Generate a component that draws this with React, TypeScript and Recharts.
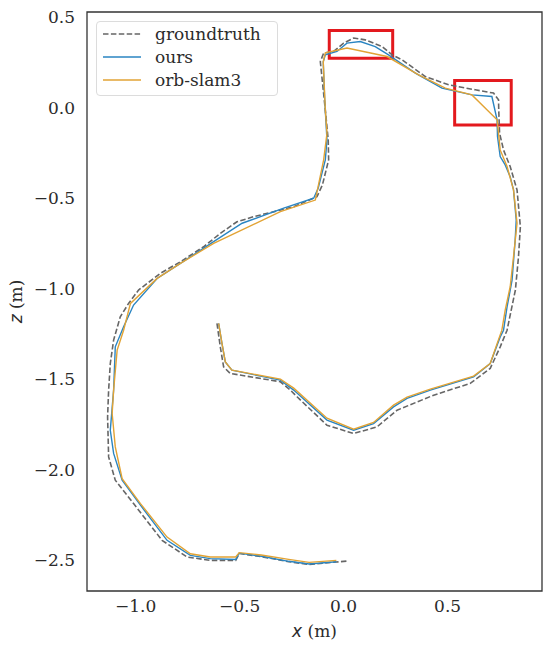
import { LineChart, Line, XAxis, YAxis, ReferenceArea } from "recharts";

// trajectory points, x and z in metres
const gtX = [-0.609, -0.593, -0.577, -0.545, -0.304, -0.256, -0.224, -0.08, 0.048, 0.161, 0.257, 0.433, 0.609, 0.705, 0.753, 0.786, 0.826, 0.841, 0.85, 0.834, 0.801, 0.769, 0.75, 0.746, 0.745, 0.721, 0.633, 0.505, 0.393, 0.281, 0.233, 0.185, 0.104, 0.048, 0.0, -0.048, -0.096, -0.112, -0.088, -0.074, -0.072, -0.102, -0.128, -0.24, -0.433, -0.513, -0.593, -0.673, -0.785, -0.881, -0.986, -1.034, -1.074, -1.106, -1.122, -1.13, -1.135, -1.13, -1.098, -1.01, -0.873, -0.753, -0.641, -0.519, -0.502, -0.396, -0.264, -0.166, -0.035, 0.014];
const gtZ = [-1.192, -1.322, -1.433, -1.469, -1.515, -1.561, -1.598, -1.755, -1.801, -1.764, -1.672, -1.589, -1.524, -1.441, -1.322, -1.23, -1.008, -0.824, -0.658, -0.455, -0.326, -0.234, -0.142, -0.013, 0.043, 0.08, 0.098, 0.126, 0.171, 0.264, 0.291, 0.337, 0.374, 0.384, 0.356, 0.31, 0.301, 0.254, -0.013, -0.179, -0.289, -0.428, -0.492, -0.548, -0.603, -0.631, -0.695, -0.769, -0.852, -0.916, -1.008, -1.082, -1.156, -1.285, -1.414, -1.561, -1.709, -1.93, -2.059, -2.188, -2.391, -2.483, -2.502, -2.502, -2.464, -2.481, -2.509, -2.524, -2.511, -2.506];

const oursX = [-0.601, -0.585, -0.569, -0.537, -0.304, -0.24, -0.08, 0.048, 0.144, 0.24, 0.305, 0.417, 0.625, 0.705, 0.753, 0.769, 0.786, 0.81, 0.825, 0.83, 0.817, 0.801, 0.777, 0.753, 0.74, 0.738, 0.713, 0.617, 0.473, 0.345, 0.216, 0.152, 0.08, 0.016, -0.032, -0.088, -0.098, -0.091, -0.08, -0.088, -0.122, -0.144, -0.288, -0.488, -0.625, -0.785, -0.897, -1.01, -1.058, -1.098, -1.106, -1.122, -1.106, -1.065, -0.977, -0.849, -0.737, -0.641, -0.519, -0.502, -0.396, -0.264, -0.166, -0.035];
const oursZ = [-1.192, -1.303, -1.405, -1.451, -1.506, -1.561, -1.727, -1.783, -1.746, -1.654, -1.607, -1.561, -1.488, -1.414, -1.267, -1.23, -1.101, -0.953, -0.732, -0.621, -0.455, -0.382, -0.317, -0.271, -0.16, -0.068, 0.061, 0.07, 0.107, 0.19, 0.291, 0.337, 0.365, 0.356, 0.31, 0.291, 0.253, 0.043, -0.179, -0.289, -0.444, -0.501, -0.556, -0.639, -0.741, -0.861, -0.944, -1.091, -1.211, -1.322, -1.561, -1.783, -1.911, -2.059, -2.197, -2.391, -2.474, -2.492, -2.497, -2.462, -2.479, -2.507, -2.522, -2.509];

const orbX = [-0.601, -0.585, -0.569, -0.537, -0.304, -0.24, -0.08, 0.048, 0.144, 0.24, 0.305, 0.417, 0.625, 0.705, 0.744, 0.761, 0.777, 0.801, 0.817, 0.834, 0.817, 0.786, 0.753, 0.745, 0.738, 0.617, 0.489, 0.361, 0.209, 0.016, -0.088, -0.098, -0.088, -0.08, -0.096, -0.136, -0.304, -0.625, -0.785, -0.897, -1.025, -1.058, -1.089, -1.106, -1.113, -1.098, -1.065, -0.977, -0.849, -0.737, -0.641, -0.519, -0.502, -0.396, -0.264, -0.166, -0.035];
const orbZ = [-1.192, -1.303, -1.405, -1.451, -1.5, -1.55, -1.716, -1.777, -1.74, -1.644, -1.6, -1.556, -1.484, -1.414, -1.285, -1.23, -1.119, -0.99, -0.824, -0.639, -0.455, -0.326, -0.234, -0.142, -0.068, 0.07, 0.107, 0.181, 0.282, 0.329, 0.303, 0.253, -0.013, -0.142, -0.289, -0.511, -0.575, -0.75, -0.861, -0.944, -1.082, -1.23, -1.34, -1.561, -1.69, -1.875, -2.05, -2.188, -2.373, -2.465, -2.483, -2.483, -2.459, -2.472, -2.496, -2.513, -2.502];

const X_TICKS = [-1.0, -0.5, 0.0, 0.5];
const Z_TICKS = [-2.5, -2.0, -1.5, -1.0, -0.5, 0.0, 0.5];

// highlighted regions [x1, x2, z1, z2]
const BOXES = [
  [-0.069, 0.236, 0.273, 0.426],
  [0.534, 0.806, -0.096, 0.149],
];

const X_DOMAIN = [-1.234, 0.954];
const Z_DOMAIN = [-2.671, 0.528];

const zip = (xs: number[], zs: number[]) => xs.map((x, i) => ({ x, z: zs[i] }));

const gt = zip(gtX, gtZ);
const ours = zip(oursX, oursZ);
const orb = zip(orbX, orbZ);

const FONT = "'DejaVu Serif', serif";
const FS = 17;
const TEXT = "#2b2b2b";
const GT_COLOR = "#666666";
const OURS_COLOR = "#2a85c2";
const ORB_COLOR = "#e2a334";

const fmt = (v: number) => (v < 0 ? "\u2212" : "") + Math.abs(v).toFixed(1);

const tickStyle = { fontFamily: FONT, fontSize: FS, fill: TEXT };

function XLabel(props: any) {
  const vb = props.viewBox || { x: 87, y: 591, width: 455 };
  return (
    <text x={vb.x + vb.width / 2} y={vb.y + 46} textAnchor="middle" fontFamily={FONT} fontSize={FS} fill={TEXT}>
      <tspan fontFamily="'DejaVu Sans', sans-serif" fontStyle="italic">x</tspan>
      <tspan> (m)</tspan>
    </text>
  );
}

function YLabel(props: any) {
  const vb = props.viewBox || { x: 0, y: 12, height: 579 };
  const cx = 21.5;
  const cy = vb.y + vb.height / 2;
  return (
    <text x={cx} y={cy} transform={`rotate(-90, ${cx}, ${cy})`} textAnchor="middle" fontFamily={FONT} fontSize={FS} fill={TEXT}>
      <tspan fontFamily="'DejaVu Sans', sans-serif" fontStyle="italic">z</tspan>
      <tspan> (m)</tspan>
    </text>
  );
}

const legendItems = [
  { name: "groundtruth", color: GT_COLOR, dash: "5.5 2.4" },
  { name: "ours", color: OURS_COLOR, dash: undefined },
  { name: "orb-slam3", color: ORB_COLOR, dash: undefined },
];

function LegendBox() {
  return (
    <div
      style={{
        position: "absolute",
        left: 96,
        top: 21,
        width: 180,
        paddingBottom: 3,
        border: "1px solid #dcdcdc",
        borderRadius: 4,
        background: "rgba(255,255,255,0.85)",
        fontFamily: FONT,
        fontSize: FS,
        color: TEXT,
      }}
    >
      {legendItems.map((it) => (
        <div key={it.name} style={{ display: "flex", alignItems: "center", height: 23.3 }}>
          <svg width={38} height={6} style={{ marginLeft: 6, marginRight: 14 }}>
            <line x1={0} y1={3} x2={38} y2={3} stroke={it.color} strokeWidth={1.5} strokeDasharray={it.dash} />
          </svg>
          <span>{it.name}</span>
        </div>
      ))}
    </div>
  );
}

export default function App() {
  return (
    <div style={{ position: "absolute", left: 0, top: 0, width: 550, height: 645, background: "#fff" }}>
      <LineChart width={550} height={645} margin={{ top: 12, right: 8, bottom: 24, left: 0 }}>
        <XAxis
          type="number"
          dataKey="x"
          domain={X_DOMAIN}
          ticks={X_TICKS}
          tickFormatter={fmt}
          allowDataOverflow
          axisLine={false}
          tickLine={false}
          tickSize={0}
          tickMargin={9}
          height={30}
          tick={tickStyle}
          label={<XLabel />}
        />
        <YAxis
          type="number"
          dataKey="z"
          domain={Z_DOMAIN}
          ticks={Z_TICKS}
          tickFormatter={fmt}
          allowDataOverflow
          axisLine={false}
          tickLine={false}
          tickSize={0}
          tickMargin={12}
          width={87}
          tick={tickStyle}
          label={<YLabel />}
        />
        <Line data={gt} dataKey="z" type="linear" stroke={GT_COLOR} strokeWidth={1.6} strokeDasharray="5.5 2.4" dot={false} isAnimationActive={false} />
        <Line data={ours} dataKey="z" type="linear" stroke={OURS_COLOR} strokeWidth={1.4} dot={false} isAnimationActive={false} />
        <Line data={orb} dataKey="z" type="linear" stroke={ORB_COLOR} strokeWidth={1.4} dot={false} isAnimationActive={false} />
        {BOXES.map((b, i) => (
          <ReferenceArea key={i} x1={b[0]} x2={b[1]} y1={b[2]} y2={b[3]} fill="none" stroke="#e3191e" strokeWidth={3} ifOverflow="visible" />
        ))}
        <ReferenceArea x1={X_DOMAIN[0]} x2={X_DOMAIN[1]} y1={Z_DOMAIN[0]} y2={Z_DOMAIN[1]} fill="none" stroke="#333333" strokeWidth={1.3} ifOverflow="visible" />
      </LineChart>
      <LegendBox />
    </div>
  );
}
